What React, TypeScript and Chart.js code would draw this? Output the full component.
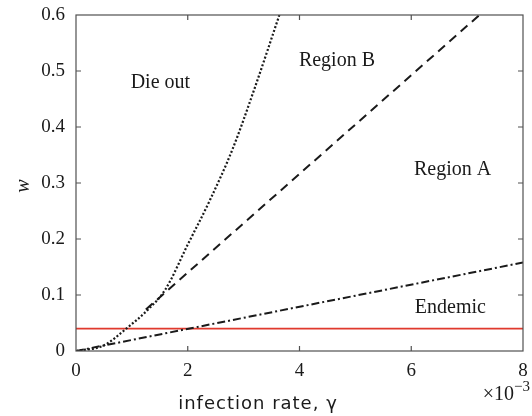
import { useEffect, useRef } from "react";
import { Chart, registerables } from "chart.js";

Chart.register(...registerables);

// Phase boundaries in the (γ, w) plane; γ is given in units of 10^-3.
const dieOutGamma = [0, 0.5, 0.9, 1.3, 1.6, 2.0, 2.4, 2.8, 3.2, 3.64];
const dieOutW = [0, 0.01, 0.04, 0.075, 0.11, 0.19, 0.27, 0.36, 0.47, 0.6];

const regionBGamma = [1.25, 7.22];
const regionBW = [0.074, 0.6];

const endemicGamma = [0, 8];
const endemicW = [0, 0.158];

const thresholdGamma = [0, 8];
const thresholdW = [0.04, 0.04];

const xTickValues = [0, 2, 4, 6, 8];
const yTickValues = [0, 0.1, 0.2, 0.3, 0.4, 0.5, 0.6];

// Region names, anchored (text baseline centre) in data coordinates.
const regionNames = ["Die out", "Region B", "Region A", "Endemic"];
const regionGamma = [1.51, 4.67, 6.74, 6.7];
const regionW = [0.47, 0.509, 0.314, 0.068];

const SERIF = '"Liberation Serif", "DejaVu Serif", serif';
const SANS = '"DejaVu Sans", "Open Sans", sans-serif';
const INK = "#1a1a1a";

// Plot-area box inside the 532×416 canvas.
const AREA = { left: 76, top: 15, right: 523, bottom: 351 };

const toPoints = (xs: number[], ys: number[]) => xs.map((x, i) => ({ x, y: ys[i] }));

const framePlugin = {
  id: "frameAndText",
  afterDatasetsDraw(chart: any) {
    const { ctx, chartArea: a, scales } = chart;
    const x = scales.x;
    const y = scales.y;
    ctx.save();

    // Box around the plot area with inward ticks on all four sides.
    ctx.strokeStyle = "#505050";
    ctx.lineWidth = 1.2;
    ctx.strokeRect(a.left, a.top, a.right - a.left, a.bottom - a.top);
    const len = 5;
    ctx.beginPath();
    for (const v of xTickValues) {
      const px = x.getPixelForValue(v);
      if (px <= a.left + 1 || px >= a.right - 1) continue;
      ctx.moveTo(px, a.bottom);
      ctx.lineTo(px, a.bottom - len);
      ctx.moveTo(px, a.top);
      ctx.lineTo(px, a.top + len);
    }
    for (const v of yTickValues) {
      const py = y.getPixelForValue(v);
      if (py >= a.bottom - 1 || py <= a.top + 1) continue;
      ctx.moveTo(a.left, py);
      ctx.lineTo(a.left + len, py);
      ctx.moveTo(a.right, py);
      ctx.lineTo(a.right - len, py);
    }
    ctx.stroke();

    // Region names
    ctx.fillStyle = INK;
    ctx.font = `20px ${SERIF}`;
    ctx.textAlign = "center";
    ctx.textBaseline = "alphabetic";
    regionNames.forEach((name, i) => {
      ctx.fillText(name, x.getPixelForValue(regionGamma[i]), y.getPixelForValue(regionW[i]));
    });

    // Axis exponent
    ctx.textAlign = "right";
    ctx.font = `15px ${SERIF}`;
    ctx.fillText("−3", chart.width - 2, 391);
    const supW = ctx.measureText("−3").width;
    ctx.font = `20px ${SERIF}`;
    ctx.fillText("×10", chart.width - 2 - supW, 400);

    // Axis titles
    ctx.font = `18px ${SANS}`;
    ctx.textAlign = "center";
    (ctx as any).letterSpacing = "1px";
    ctx.fillText("infection rate, γ", chart.width / 2 - 8, 409);
    (ctx as any).letterSpacing = "0px";

    ctx.save();
    ctx.translate(28.5, 186);
    ctx.rotate(-Math.PI / 2);
    ctx.font = `italic 20px ${SERIF}`;
    ctx.textAlign = "center";
    ctx.textBaseline = "alphabetic";
    ctx.fillText("w", 0, 0);
    ctx.restore();

    ctx.restore();
  },
};

export default function App() {
  const canvasRef = useRef<HTMLCanvasElement | null>(null);

  useEffect(() => {
    document.body.style.margin = "0";
    const canvas = canvasRef.current;
    if (!canvas) return;

    const tickFont = { family: SERIF, size: 19 };

    const chart = new Chart(canvas, {
      type: "line",
      data: {
        datasets: [
          {
            data: toPoints(dieOutGamma, dieOutW),
            borderColor: INK,
            borderWidth: 2.2,
            borderDash: [2, 2],
            cubicInterpolationMode: "monotone",
            pointRadius: 0,
          },
          {
            data: toPoints(regionBGamma, regionBW),
            borderColor: INK,
            borderWidth: 2,
            borderDash: [9, 6],
            pointRadius: 0,
          },
          {
            data: toPoints(endemicGamma, endemicW),
            borderColor: INK,
            borderWidth: 2,
            borderDash: [8, 3, 2, 3],
            pointRadius: 0,
          },
          {
            data: toPoints(thresholdGamma, thresholdW),
            borderColor: "#e0392d",
            borderWidth: 1.6,
            pointRadius: 0,
          },
        ],
      },
      options: {
        animation: false,
        responsive: false,
        devicePixelRatio: 1,
        layout: {
          padding: { top: AREA.top, right: 532 - AREA.right, bottom: 0, left: 0 },
        },
        plugins: { legend: { display: false }, tooltip: { enabled: false } },
        scales: {
          x: {
            type: "linear",
            min: 0,
            max: 8,
            afterBuildTicks: (s: any) => {
              s.ticks = xTickValues.map((value) => ({ value }));
            },
            afterFit: (s: any) => {
              s.height = 416 - AREA.bottom;
              s.paddingLeft = 0;
              s.paddingRight = 0;
            },
            ticks: { font: tickFont, color: INK, padding: 9, maxRotation: 0, autoSkip: false },
            grid: { display: false, drawTicks: false },
            border: { display: false },
          },
          y: {
            type: "linear",
            min: 0,
            max: 0.6,
            afterBuildTicks: (s: any) => {
              s.ticks = yTickValues.map((value) => ({ value }));
            },
            afterFit: (s: any) => {
              s.width = AREA.left;
              s.paddingTop = 0;
              s.paddingBottom = 0;
            },
            ticks: { font: tickFont, color: INK, padding: 11, autoSkip: false },
            grid: { display: false, drawTicks: false },
            border: { display: false },
          },
        },
      },
      plugins: [framePlugin],
    } as any);

    return () => chart.destroy();
  }, []);

  return <canvas ref={canvasRef} width={532} height={416} style={{ display: "block" }} />;
}
